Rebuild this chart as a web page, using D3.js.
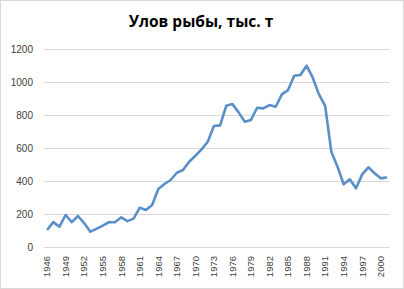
<!DOCTYPE html>
<html><head><meta charset="utf-8">
<script src="https://cdn.jsdelivr.net/npm/d3@7"></script>
<style>html,body{margin:0;padding:0;background:#fff;}svg{display:block;}</style>
</head><body>
<svg id="c" width="404" height="289"></svg>
<script>
const title = "Улов рыбы, тыс. т";
const years = d3.range(1946, 2002);
const catch_ = [103,151,123,194,151,188,145,93,110,130,150,150,180,157,172,238,224,254,351,382,
  406,450,467,517,553,592,638,733,737,856,866,816,759,770,844,840,860,850,925,951,
  1038,1042,1099,1026,925,856,578,487,380,410,356,440,483,447,416,422];
const yTicks = [0,200,400,600,800,1000,1200];
const xLabelYears = d3.range(1946, 2002, 3);

const svg = d3.select("#c");
const W = 404, H = 289;
const m = {l:44, r:14, t:49, b:42};

svg.append("rect").attr("x",0.5).attr("y",0.5).attr("width",W-1).attr("height",H-1)
  .attr("fill","#fff").attr("stroke","#d9d9d9");

const x = d3.scaleBand().domain(years).range([m.l, W-m.r]);
const y = d3.scaleLinear().domain([0,1200]).range([H-m.b, m.t]);

svg.append("text").attr("x",201).attr("y",27).attr("text-anchor","middle")
  .attr("font-family","Open Sans, Liberation Sans, sans-serif").attr("font-weight","bold")
  .attr("font-size",15.5).attr("fill","#000").text(title);

const ya = svg.append("g").attr("transform",`translate(${m.l},0)`)
  .call(d3.axisLeft(y).tickValues(yTicks).tickFormat(d3.format("d"))
    .tickSize(-(W-m.l-m.r)).tickPadding(11));
ya.select(".domain").remove();
ya.selectAll(".tick line").attr("stroke","#d9d9d9");
ya.selectAll(".tick text").attr("font-family","Liberation Sans, Arial, sans-serif")
  .attr("font-size",10).attr("fill","#404040");

const xa = svg.append("g").attr("transform",`translate(0,${H-m.b})`)
  .call(d3.axisBottom(x).tickValues(xLabelYears).tickSize(0).tickPadding(0));
xa.select(".domain").remove();
xa.selectAll(".tick text").attr("font-family","Liberation Sans, Arial, sans-serif")
  .attr("font-size",9.5).attr("fill","#404040")
  .attr("transform","rotate(-90)").attr("text-anchor","end")
  .attr("x",-9).attr("y",0).attr("dy","0.35em");

const line = d3.line().x((d,i)=>x(years[i])+x.bandwidth()/2).y(d=>y(d));
svg.append("path").datum(catch_).attr("d",line).attr("fill","none")
  .attr("stroke","#5b8fc7").attr("stroke-width",2.6).attr("stroke-linejoin","round");
</script>
</body></html>
